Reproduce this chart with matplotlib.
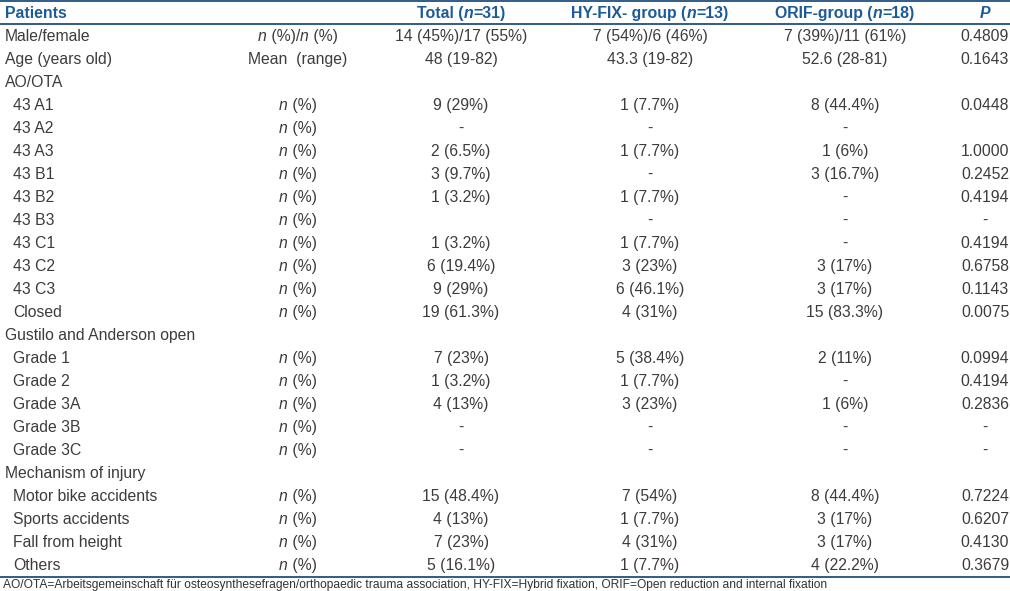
import matplotlib
matplotlib.use("Agg")
import matplotlib.pyplot as plt

# ---------------- data ----------------
headers = ["Patients", "Total (n=31)", "HY-FIX- group (n=13)", "ORIF-group (n=18)", "P"]
row_labels = ["Male/female", "Age (years old)", "AO/OTA",
              "43 A1", "43 A2", "43 A3", "43 B1", "43 B2", "43 B3", "43 C1", "43 C2", "43 C3", "Closed",
              "Gustilo and Anderson open",
              "Grade 1", "Grade 2", "Grade 3A", "Grade 3B", "Grade 3C",
              "Mechanism of injury",
              "Motor bike accidents", "Sports accidents", "Fall from height", "Others"]
indented = [False, False, False,
            True, True, True, True, True, True, True, True, True, True,
            False,
            True, True, True, True, True,
            False,
            True, True, True, True]
units = ["n (%)/n (%)", "Mean  (range)", "",
         "n (%)", "n (%)", "n (%)", "n (%)", "n (%)", "n (%)", "n (%)", "n (%)", "n (%)", "n (%)",
         "",
         "n (%)", "n (%)", "n (%)", "n (%)", "n (%)",
         "",
         "n (%)", "n (%)", "n (%)", "n (%)"]
total = ["14 (45%)/17 (55%)", "48 (19-82)", "",
         "9 (29%)", "-", "2 (6.5%)", "3 (9.7%)", "1 (3.2%)", "", "1 (3.2%)", "6 (19.4%)", "9 (29%)", "19 (61.3%)",
         "",
         "7 (23%)", "1 (3.2%)", "4 (13%)", "-", "-",
         "",
         "15 (48.4%)", "4 (13%)", "7 (23%)", "5 (16.1%)"]
hyfix = ["7 (54%)/6 (46%)", "43.3 (19-82)", "",
         "1 (7.7%)", "-", "1 (7.7%)", "-", "1 (7.7%)", "-", "1 (7.7%)", "3 (23%)", "6 (46.1%)", "4 (31%)",
         "",
         "5 (38.4%)", "1 (7.7%)", "3 (23%)", "-", "-",
         "",
         "7 (54%)", "1 (7.7%)", "4 (31%)", "1 (7.7%)"]
orif = ["7 (39%)/11 (61%)", "52.6 (28-81)", "",
        "8 (44.4%)", "-", "1 (6%)", "3 (16.7%)", "-", "-", "-", "3 (17%)", "3 (17%)", "15 (83.3%)",
        "",
        "2 (11%)", "-", "1 (6%)", "-", "-",
        "",
        "8 (44.4%)", "3 (17%)", "3 (17%)", "4 (22.2%)"]
pvals = ["0.4809", "0.1643", "",
         "0.0448", "", "1.0000", "0.2452", "0.4194", "-", "0.4194", "0.6758", "0.1143", "0.0075",
         "",
         "0.0994", "0.4194", "0.2836", "-", "-",
         "",
         "0.7224", "0.6207", "0.4130", "0.3679"]
footnote = ("AO/OTA=Arbeitsgemeinschaft für osteosynthesefragen/orthopaedic trauma association, "
            "HY-FIX=Hybrid fixation, ORIF=Open reduction and internal fixation")

# ---------------- style ----------------
FONT = "Liberation Sans"
FS = 11.3
FS_HEAD = 11.4
TXT = "#3c3c3c"
HEAD = "#1d5a98"
LINE = "#1f4f7d"
W, H = 1010, 591

fig = plt.figure(figsize=(W / 100, H / 100), dpi=100)
ax = fig.add_axes([0, 0, 1, 1])
ax.set_xlim(0, W)
ax.set_ylim(H, 0)
ax.axis("off")
renderer = fig.canvas.get_renderer()


def rich(x, y, parts, ha="left", color=TXT, size=FS):
    """parts: list of (text, weight, style); y is the visual centre of capitals"""
    base = y + size * 100 / 72 * 0.716 / 2
    objs = []
    for txt, wt, st in parts:
        t = ax.text(0, base, txt, fontsize=size, fontweight=wt, fontstyle=st,
                    family=FONT, color=color, va="baseline", ha="left")
        objs.append(t)
    widths = [o.get_window_extent(renderer).width for o in objs]
    tot = sum(widths)
    if ha == "center":
        x0 = x - tot / 2
    elif ha == "right":
        x0 = x - tot
    else:
        x0 = x
    for o, w in zip(objs, widths):
        o.set_x(x0)
        x0 += w


def split_italic_n(s, weight="normal"):
    """render every standalone 'n' (as in n (%) or n=31) italic"""
    parts = []
    buf = ""
    for i, c in enumerate(s):
        prev = s[i - 1] if i > 0 else " "
        nxt = s[i + 1] if i + 1 < len(s) else " "
        if c == "n" and not prev.isalpha() and not nxt.isalpha():
            if buf:
                parts.append((buf, weight, "normal"))
                buf = ""
            parts.append(("n", weight, "italic"))
        else:
            buf += c
    if buf:
        parts.append((buf, weight, "normal"))
    return parts


col_unit = 298
col_total = 461
col_hy = 650
col_orif = 845
col_p = 985

y_head = 12
y0 = 35
dy = 23

# header
rich(5, y_head, [(headers[0], "bold", "normal")], color=HEAD, size=FS_HEAD)
rich(col_total, y_head, split_italic_n(headers[1], "bold"), ha="center", color=HEAD, size=FS_HEAD)
rich(col_hy, y_head, split_italic_n(headers[2], "bold"), ha="center", color=HEAD, size=FS_HEAD)
rich(col_orif, y_head, split_italic_n(headers[3], "bold"), ha="center", color=HEAD, size=FS_HEAD)
rich(col_p, y_head, [(headers[4], "bold", "italic")], ha="center", color=HEAD, size=FS_HEAD)

# rows
for i, lab in enumerate(row_labels):
    y = y0 + i * dy
    rich(13 if indented[i] else 5, y, [(lab, "normal", "normal")])
    if units[i]:
        rich(col_unit, y, split_italic_n(units[i]), ha="center")
    for cx, vals in ((col_total, total), (col_hy, hyfix), (col_orif, orif), (col_p, pvals)):
        if vals[i]:
            rich(cx, y, [(vals[i], "normal", "normal")], ha="center")

# rules
for yl in (1.0, 23.5, 577.0):
    ax.plot([0, W], [yl, yl], color=LINE, lw=1.3, solid_capstyle="butt")

# footnote
rich(3, 583.5, [(footnote, "normal", "normal")], size=8.65, color="#333333")

fig.savefig("out.png", dpi=100)
